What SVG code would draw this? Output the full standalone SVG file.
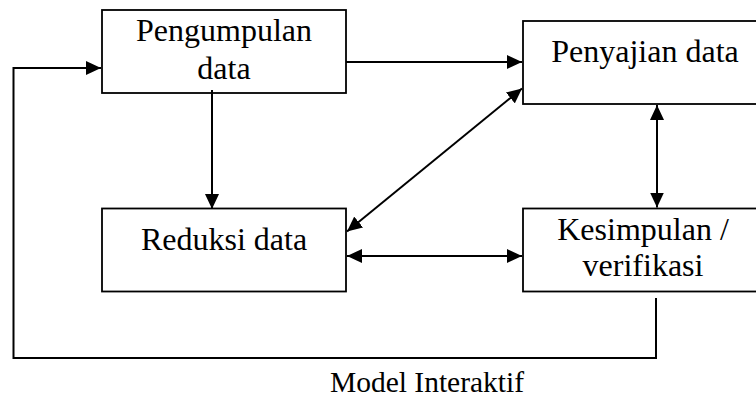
<svg xmlns="http://www.w3.org/2000/svg" width="756" height="403" viewBox="0 0 756 403">
  <style>
    .box { fill: #ffffff; stroke: #000000; stroke-width: 1.8; }
    .lbl { font-size: 32px; fill: #000000; text-anchor: middle; }
    .cap { font-size: 29.5px; fill: #000000; text-anchor: middle; }
    .con { fill: none; stroke: #000000; stroke-width: 2; }
  </style>
  <defs>
    <marker id="ah" markerUnits="userSpaceOnUse" markerWidth="16" markerHeight="14" refX="15" refY="7" orient="auto-start-reverse">
      <path d="M0,0 L15,7 L0,14 z" fill="#000000"/>
    </marker>
  </defs>
  <rect width="756" height="403" fill="#ffffff"/>

  <g id="pengumpulan" font-family="'Liberation Serif', 'Times New Roman', 'DejaVu Serif', serif">
    <rect class="box" x="102" y="10" width="244" height="83"/>
    <text class="lbl" x="224" y="41">Pengumpulan</text>
    <text class="lbl" x="224" y="79">data</text>
  </g>

  <g id="penyajian" font-family="'Liberation Serif', 'Times New Roman', 'DejaVu Serif', serif">
    <rect class="box" x="523" y="21" width="244" height="83"/>
    <text class="lbl" x="645" y="62">Penyajian data</text>
  </g>

  <g id="reduksi" font-family="'Liberation Serif', 'Times New Roman', 'DejaVu Serif', serif">
    <rect class="box" x="102" y="208.5" width="244" height="83"/>
    <text class="lbl" x="224" y="250">Reduksi data</text>
  </g>

  <g id="kesimpulan" font-family="'Liberation Serif', 'Times New Roman', 'DejaVu Serif', serif">
    <rect class="box" x="523" y="208.5" width="244" height="83"/>
    <text class="lbl" x="643" y="239.5">Kesimpulan /</text>
    <text class="lbl" x="643" y="275.5">verifikasi</text>
  </g>

  <g id="connectors">
    <line class="con" x1="346" y1="62" x2="522" y2="62" marker-end="url(#ah)"/>
    <line class="con" x1="212" y1="90" x2="212" y2="209" marker-end="url(#ah)"/>
    <line class="con" x1="347" y1="231.5" x2="522" y2="88.5" marker-start="url(#ah)" marker-end="url(#ah)"/>
    <line class="con" x1="347" y1="256" x2="522" y2="256" marker-start="url(#ah)" marker-end="url(#ah)"/>
    <line class="con" x1="657" y1="105" x2="657" y2="207.5" marker-start="url(#ah)" marker-end="url(#ah)"/>
    <polyline class="con" points="656,298 656,358 13.5,358 13.5,68 101,68" marker-end="url(#ah)"/>
  </g>

  <text class="cap" x="427" y="391.5" font-family="'Liberation Serif', 'Times New Roman', 'DejaVu Serif', serif">Model Interaktif</text>
</svg>
